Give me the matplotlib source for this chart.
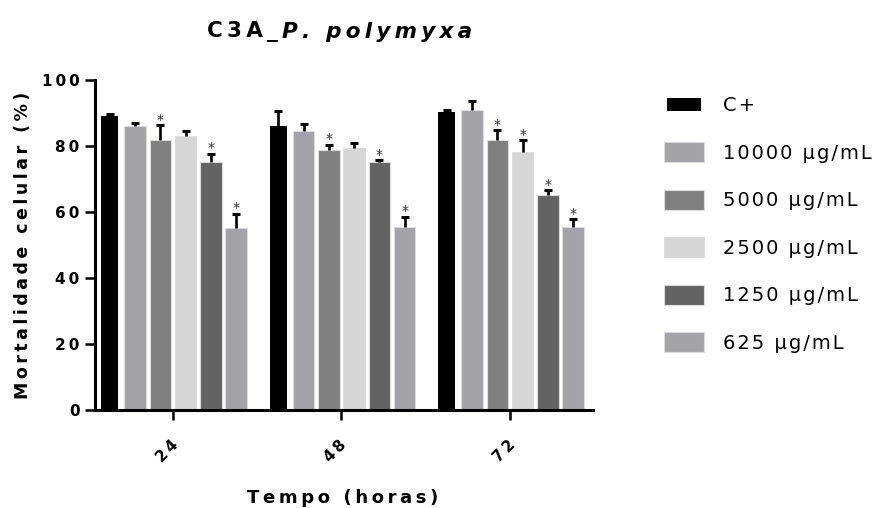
import numpy as np
import matplotlib
matplotlib.use("Agg")
import matplotlib.pyplot as plt
import matplotlib.patches as mpatches
from matplotlib.legend_handler import HandlerPatch
from matplotlib.transforms import ScaledTranslation

plt.rcParams['font.family'] = ['DejaVu Sans']

# ---- data -------------------------------------------------------------
times = ["24", "48", "72"]
series = ["C+", "10000 μg/mL", "5000 μg/mL", "2500 μg/mL", "1250 μg/mL", "625 μg/mL"]

mean_cpos = [89.2, 86.1, 90.2]
mean_10000 = [86.0, 84.4, 91.0]
mean_5000 = [81.8, 78.8, 81.8]
mean_2500 = [83.0, 79.5, 78.2]
mean_1250 = [75.2, 75.0, 65.0]
mean_625 = [55.0, 55.4, 55.5]

err_cpos = [0.4, 4.4, 0.6]
err_10000 = [0.9, 2.2, 2.6]
err_5000 = [4.5, 1.5, 2.9]
err_2500 = [1.4, 1.4, 3.5]
err_1250 = [2.4, 0.7, 1.6]
err_625 = [4.4, 3.1, 2.3]

sig_cpos = [False, False, False]
sig_10000 = [False, False, False]
sig_5000 = [True, True, True]
sig_2500 = [False, False, True]
sig_1250 = [True, True, True]
sig_625 = [True, True, True]

yticks = [0, 20, 40, 60, 80, 100]

means = [mean_cpos, mean_10000, mean_5000, mean_2500, mean_1250, mean_625]
errs = [err_cpos, err_10000, err_5000, err_2500, err_1250, err_625]
sigs = [sig_cpos, sig_10000, sig_5000, sig_2500, sig_1250, sig_625]

colors = ["#000000", "#A3A2A7", "#808080", "#D6D6D6", "#636363", "#A3A2A7"]
edge = "#DCDCDC"


def track(s, sep="\u2009"):
    """Letter-spaced version of a label."""
    return sep.join(s)


# ---- figure -----------------------------------------------------------
W, H = 875, 508
fig = plt.figure(figsize=(W / 100, H / 100), dpi=100)
ax = fig.add_axes([95 / W, 98 / H, 498 / W, 330 / H])

x = np.arange(len(times))
slot = 0.15
for i, (m, e, s) in enumerate(zip(means, errs, sigs)):
    pos = x + (i - 2.5) * slot
    if i == 0:
        ax.bar(pos, m, width=0.099, color=colors[i], edgecolor="none", zorder=1)
    else:
        ax.bar(pos, m, width=0.127, color=colors[i], edgecolor=edge,
               linewidth=0.8, zorder=1)
    eb = ax.errorbar(pos, m, yerr=[np.zeros(len(m)), e], fmt="none",
                     ecolor="black", elinewidth=1.9, capsize=2.9,
                     capthick=2.2, zorder=3)
    eb[1][0].set_visible(False)  # hide lower caps
    for p, mv, ev, flag in zip(pos, m, e, s):
        if flag:
            ax.annotate("*", xy=(p, mv + ev), xytext=(0, -1),
                        textcoords="offset points", ha="center", va="bottom",
                        fontsize=10, color="#333333", zorder=4)

ax.set_xlim(-0.463, 2.493)
ax.set_ylim(0, 100)

for side in ("top", "right"):
    ax.spines[side].set_visible(False)
for side in ("left", "bottom"):
    ax.spines[side].set_linewidth(2.2)

ax.tick_params(axis="both", length=7, width=1.8, direction="out")
ax.tick_params(axis="y", pad=4)
ax.tick_params(axis="x", pad=9)

ax.set_yticks(yticks)
ax.set_yticklabels([track(str(v)) for v in yticks], fontsize=11,
                   fontweight="bold")

ax.set_xticks(x)
xt = ax.set_xticklabels([track(t) for t in times], fontsize=11,
                        fontweight="bold", rotation=45, ha="right")
for lab in xt:
    lab.set_transform(lab.get_transform() +
                      ScaledTranslation(0.08, -0.05, fig.dpi_scale_trans))

ax.set_ylabel(track("Mortalidade celular (%)"), fontsize=12.5,
              fontweight="bold", va="center")
ax.yaxis.set_label_coords(-0.1446, 0.5)
ax.set_xlabel(track("Tempo (horas)"), fontsize=13, fontweight="bold",
              va="baseline")
ax.xaxis.set_label_coords(0.497, -0.2818)

# title: upright prefix followed by italic species name
t1 = fig.text(207 / W, (H - 37) / H, track("C3A_") + "\u2009",
              fontsize=15.5, fontweight="bold", ha="left", va="baseline")
fig.canvas.draw()
ax.annotate(track("P. polymyxa"), xy=(1, 0), xycoords=t1, ha="left",
            va="bottom", fontsize=15.5, fontweight="bold", style="italic",
            annotation_clip=False)


# ---- legend -----------------------------------------------------------
def small_box(legend, orig_handle, xdescent, ydescent, width, height, fontsize):
    return mpatches.Rectangle((-xdescent + 2, -ydescent + 2.5),
                              width - 4, height - 5)


handles = []
hmap = {}
for i, c in enumerate(colors):
    if i == 0:
        h = mpatches.Patch(facecolor=c, edgecolor="none")
        hmap[h] = HandlerPatch(patch_func=small_box)
    else:
        h = mpatches.Patch(facecolor=c, edgecolor=edge, linewidth=0.8)
    handles.append(h)

fs = 14
fpx = fs * 100 / 72
fig.legend(handles, [track(s, "\u200a") for s in series],
           handler_map=hmap, loc="upper left",
           bbox_to_anchor=(664 / W, (H - 95) / H), frameon=False,
           fontsize=fs, handlelength=40 / fpx, handleheight=23 / fpx,
           handletextpad=19 / fpx, labelspacing=1.39, borderpad=0,
           borderaxespad=0)

fig.savefig("out.png", dpi=100)
